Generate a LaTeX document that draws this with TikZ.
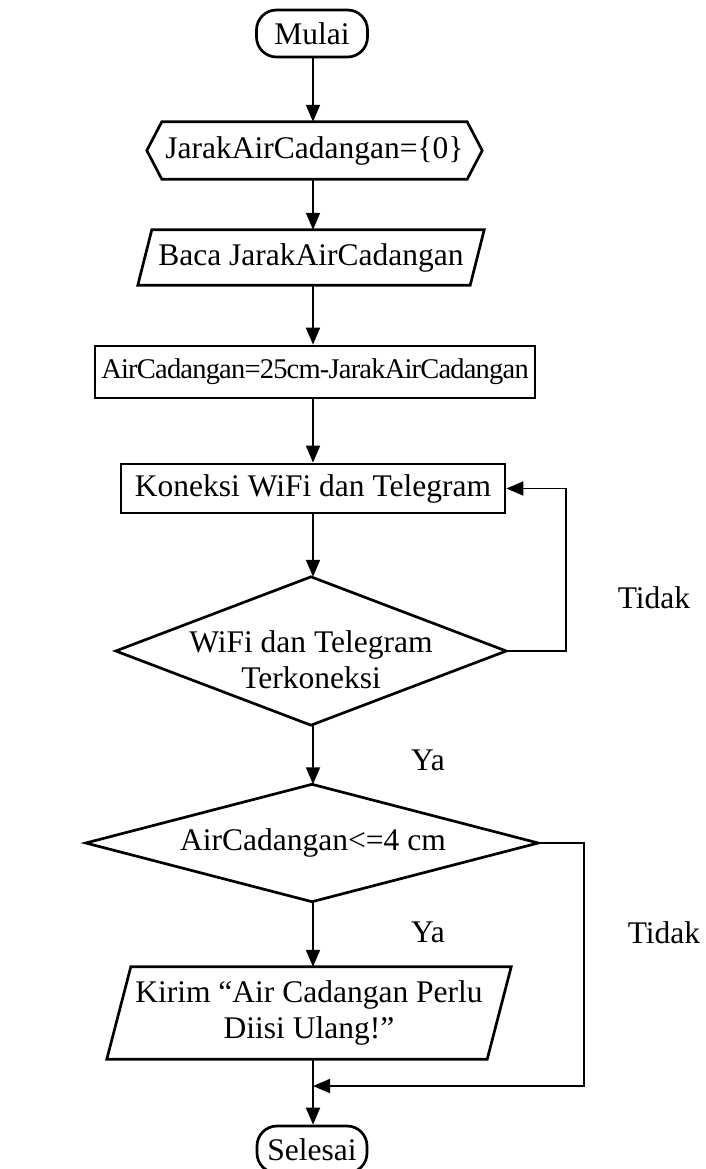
\documentclass[tikz,border=0pt]{standalone}
\usepackage{fontspec}
\setmainfont{Liberation Serif}
\newfontfamily\tightserif[LetterSpace=-2.8]{Liberation Serif}
\usetikzlibrary{arrows.meta}
\begin{document}
\begin{tikzpicture}[x=1pt,y=-1pt,
  font=\fontsize{31.5}{36}\selectfont,
  shp/.style={line width=2.7pt, line join=miter},
  con/.style={line width=1.8pt,-{Triangle[length=17pt,width=14pt]}},
  box/.style={rectangle, inner sep=0pt, align=center},
  lbl/.style={inner sep=0pt}]
\useasboundingbox (0,0) rectangle (706,1169);
\clip (0,0) rectangle (706,1169);

% terminator start
\node[box, draw, shp, rounded corners=20pt, minimum width=111pt, minimum height=47pt] (start) at (312,33.5) {Mulai};

% preparation (hexagon)
\node[box, minimum width=335pt, minimum height=57pt] (init) at (314.5,150.5) {JarakAirCadangan=\{0\}};
\draw[shp] (init.west) -- ([xshift=15pt]init.north west) -- ([xshift=-15pt]init.north east)
  -- (init.east) -- ([xshift=-15pt]init.south east) -- ([xshift=15pt]init.south west) -- cycle;

% input
\node[box, minimum width=332pt, minimum height=55pt] (read) at (311,257.5) {Baca JarakAirCadangan};
\draw[shp] ([xshift=7pt]read.north west) -- ([xshift=7pt]read.north east)
  -- ([xshift=-7pt]read.south east) -- ([xshift=-7pt]read.south west) -- cycle;

% process
\node[box, draw, shp, minimum width=440pt, minimum height=52pt, font=\tightserif\fontsize{28.5}{33}\selectfont] (calc) at (315,372) {AirCadangan=25cm-JarakAirCadangan};

\node[box, draw, shp, minimum width=384pt, minimum height=49pt] (conn) at (313,488.5) {Koneksi WiFi dan Telegram};

% decision 1
\node[box, minimum width=390pt, minimum height=148pt] (chk1) at (311,651) {};
\draw[shp] (chk1.north) -- (chk1.east) -- (chk1.south) -- (chk1.west) -- cycle;
\node[box] (chk1t) at (311,660) {WiFi dan Telegram\\Terkoneksi};

% decision 2
\node[box, minimum width=452pt, minimum height=117pt] (chk2) at (312,843) {};
\draw[shp] (chk2.north) -- (chk2.east) -- (chk2.south) -- (chk2.west) -- cycle;
\node[box] (chk2t) at (313,843) {AirCadangan<=4 cm};

% output
\node[box, minimum width=380pt, minimum height=92pt] (send) at (309,1013) {Kirim “Air Cadangan Perlu\\Diisi Ulang!”};
\draw[shp] ([xshift=12pt]send.north west) -- ([xshift=12pt]send.north east)
  -- ([xshift=-12pt]send.south east) -- ([xshift=-12pt]send.south west) -- cycle;

% end
\node[box, draw, shp, rounded corners=20pt, minimum width=110pt, minimum height=47pt] (stop) at (312,1149.5) {Selesai};

\coordinate (join) at (313,1086);

% connectors (all on the vertical axis x = 313)
\draw[con] (start.south -| 313,0) -- (init.north -| 313,0);
\draw[con] (init.south -| 313,0) -- (read.north -| 313,0);
\draw[con] (read.south -| 313,0) -- (calc.north -| 313,0);
\draw[con] (calc.south -| 313,0) -- (conn.north -| 313,0);
\draw[con] (conn.south -| 313,0) -- (chk1.north -| 313,0);
\draw[con] (chk1.east) -- ++(60,0) |- (conn.east);
\draw[con] (chk1.south -| 313,0) -- (chk2.north -| 313,0);
\draw[con] (chk2.south -| 313,0) -- (send.north -| 313,0);
\draw[con] (chk2.east) -- ++(46,0) |- (join);
\draw[con] (send.south -| 313,0) -- (stop.north -| 313,0);

% labels
\node[lbl] (t1) at (654,598) {Tidak};
\node[lbl] (y1) at (428,760) {Ya};
\node[lbl] (y2) at (428,932) {Ya};
\node[lbl] (t2) at (664,933) {Tidak};
\end{tikzpicture}
\end{document}
